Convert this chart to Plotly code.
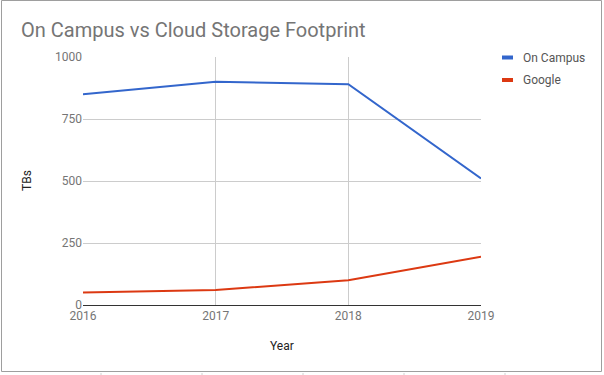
import plotly.graph_objects as go

years = [2016, 2017, 2018, 2019]
on_campus = [850, 900, 890, 510]
google = [50, 60, 100, 195]
series_names = ["On Campus", "Google"]
series_colors = ["#3366cc", "#dc3912"]
y_ticks = [0, 250, 500, 750, 1000]
title_text = "On Campus vs Cloud Storage Footprint"

W, H = 604, 375
L, R, T, B = 83, 123, 57, 70
PW, PH = W - L - R, H - T - B


def px(x):
    return (x - L) / PW


def py(y):
    return (H - B - y) / PH


fig = go.Figure()
for name, vals, col in zip(series_names, [on_campus, google], series_colors):
    fig.add_trace(go.Scatter(x=years, y=vals, mode="lines", name=name,
                             line=dict(color=col, width=2), showlegend=False,
                             hoverinfo="skip"))

shapes = []
# outer border
shapes.append(dict(type="rect", xref="paper", yref="paper",
                   x0=px(1.5), x1=px(601.5), y0=py(371.5), y1=py(0.5),
                   line=dict(color="#9e9e9e", width=1), layer="below"))
# spreadsheet cell lines below the chart
for gx in [101, 202, 303, 404, 505]:
    shapes.append(dict(type="line", xref="paper", yref="paper",
                       x0=px(gx), x1=px(gx), y0=py(373), y1=py(376),
                       line=dict(color="#d0d0d0", width=1)))

annotations = []
# legend
for i, (name, col) in enumerate(zip(series_names, series_colors)):
    cy = 57.5 + i * 22.5
    shapes.append(dict(type="rect", xref="paper", yref="paper",
                       x0=px(502), x1=px(513), y0=py(cy + 2), y1=py(cy - 2),
                       fillcolor=col, line=dict(width=0)))
    annotations.append(dict(text=name, xref="paper", yref="paper",
                            x=px(521), y=py(cy), xanchor="left", yanchor="middle",
                            showarrow=False,
                            font=dict(family="Roboto", size=12, color="#555555")))

annotations.append(dict(text=title_text, xref="paper", yref="paper",
                        x=px(19), y=py(30), xanchor="left", yanchor="middle",
                        showarrow=False,
                        font=dict(family="Roboto", size=20, color="#757575")))
annotations.append(dict(text="TBs", xref="paper", yref="paper",
                        x=px(27), y=py(181), xanchor="center", yanchor="middle",
                        textangle=-90, showarrow=False,
                        font=dict(family="Roboto", size=12, color="#222222")))
annotations.append(dict(text="Year", xref="paper", yref="paper",
                        x=px(282), y=py(346), xanchor="center", yanchor="middle",
                        showarrow=False,
                        font=dict(family="Roboto", size=12, color="#222222")))

fig.update_layout(
    width=W, height=H,
    margin=dict(l=L, r=R, t=T, b=B, autoexpand=False),
    paper_bgcolor="white", plot_bgcolor="white",
    shapes=shapes, annotations=annotations,
    font=dict(family="Roboto", size=12, color="#444444"),
    xaxis=dict(range=[2016, 2019], tickvals=years, ticktext=[str(y) for y in years],
               showgrid=True, gridcolor="#cccccc", gridwidth=1,
               showline=True, linecolor="#333333", linewidth=1,
               zeroline=False, ticks="", tickfont=dict(color="#757575", size=12),
               fixedrange=True),
    yaxis=dict(range=[0, 1000], tickvals=y_ticks,
               showgrid=True, gridcolor="#cccccc", gridwidth=1,
               showline=False, zeroline=False, ticks="",
               tickfont=dict(color="#757575", size=12), fixedrange=True),
    showlegend=False,
)

fig.write_html("out.html", config={"displayModeBar": False})
